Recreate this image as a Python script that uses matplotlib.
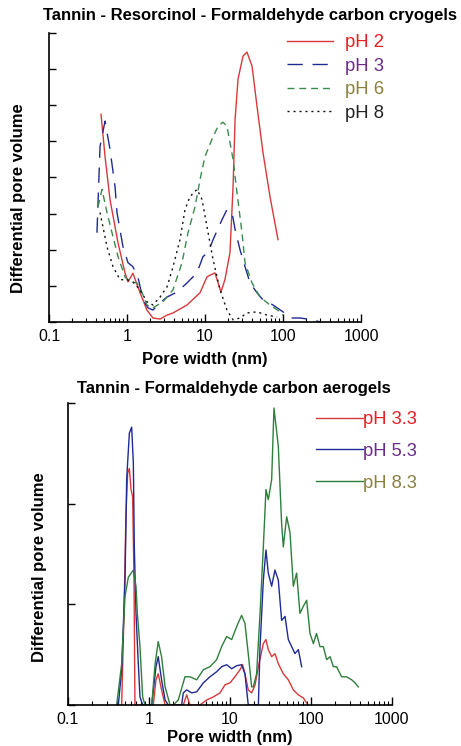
import numpy as np
import matplotlib
matplotlib.use('Agg')
import matplotlib.pyplot as plt
from matplotlib.ticker import LogLocator, NullFormatter

plt.rcParams['font.family'] = ['Liberation Sans', 'DejaVu Sans']

######## data: top panel (cryogels), pore width in nm, arbitrary units

ph2_x = [0.464, 0.523, 0.605, 0.767, 0.943, 1.03, 1.19, 1.47, 1.80, 2.15, 2.65, 3.26, 3.89,
         5.88, 8.63, 10.6, 13.4, 16.0, 18.0, 20.9, 22.9, 24.3, 26.5, 30.7, 34.5, 40.1, 46.4,
         55.4, 68.1, 86.3]
ph2_y = [5.75, 4.58, 3.39, 2.19, 1.36, 1.11, 1.35, 0.81, 0.33, 0.11, 0.08, 0.19, 0.25,
         0.47, 0.81, 1.25, 1.36, 0.83, 1.17, 1.92, 3.75, 5.61, 6.72, 7.36, 7.47, 7.08, 5.97,
         4.69, 3.47, 2.28]

ph3_x = [0.412, 0.451, 0.523, 0.605, 0.702, 0.744, 0.889, 1.03, 1.19, 1.38, 1.60, 1.86, 2.15,
         2.65, 3.26, 4.38, 5.88, 7.89, 9.42, 10.9, 12.7, 16.5, 19.1, 22.2, 24.3, 28.1, 32.6,
         37.8, 46.4, 55.4, 74.5, 100, 123, 165, 243, 298]
ph3_y = [2.47, 4.86, 5.56, 4.78, 3.75, 3.03, 2.08, 1.64, 1.53, 1.25, 0.61, 0.39, 0.33,
         0.53, 0.69, 0.83, 1.08, 1.36, 1.81, 1.92, 2.28, 2.83, 3.11, 3.03, 2.56, 2.00, 1.53,
         1.08, 0.81, 0.61, 0.47, 0.28, 0.11, 0.11, 0.06, 0.0]

ph6_x = [0.425, 0.478, 0.554, 0.642, 0.767, 0.943, 1.09, 1.34, 1.56, 1.80, 2.15, 2.89, 3.89,
         5.07, 6.05, 7.45, 8.63, 10.0, 12.3, 14.7, 17.0, 19.1, 22.9, 25.7, 29.8, 32.6, 40.1,
         50.7, 68.1, 91.5, 100]
ph6_y = [3.19, 3.67, 3.03, 2.47, 1.81, 1.25, 1.11, 1.08, 0.81, 0.47, 0.39, 0.56, 0.89,
         1.64, 2.47, 3.19, 3.94, 4.58, 5.06, 5.42, 5.53, 5.42, 4.50, 3.58, 2.47, 1.64, 1.08,
         0.69, 0.47, 0.28, 0.19]

ph8_x = [0.451, 0.554, 0.662, 0.813, 1.0, 1.19, 1.47, 1.80, 2.15, 2.65, 3.26, 3.89, 4.78,
         5.54, 6.42, 7.89, 9.16, 10.6, 12.7, 15.6, 19.1, 22.9, 28.1, 34.5, 46.4, 62.4, 83.8]
ph8_y = [3.03, 2.08, 1.53, 1.17, 1.17, 1.11, 0.89, 0.56, 0.47, 0.69, 0.97, 1.53, 2.28,
         3.11, 3.47, 3.67, 3.39, 2.64, 1.72, 0.89, 0.33, 0.06, 0.11, 0.25, 0.28, 0.19, 0.14]

######## data: bottom panel (aerogels)

ph33_x = [0.460, 0.491, 0.520, 0.545, 0.572, 0.600, 0.628, 0.653, 0.671, 1.13, 1.22, 1.30,
          1.43, 1.58, 2.65, 2.92, 3.21, 4.26, 5.15, 6.23, 7.53, 8.68, 10.0, 11.5, 13.3, 14.3,
          15.3, 16.8, 18.5, 20.4, 22.4, 25.8, 27.8, 29.7, 32.7, 35.9, 39.5, 45.5, 52.5, 60.5,
          69.8, 80.4, 88.4]
ph33_y = [0.0, 0.91, 1.90, 2.30, 2.35, 2.14, 2.07, 1.24, 0.0, 0.0, 0.25, 0.31,
          0.15, 0.0, 0.0, 0.10, 0.0, 0.0, 0.05, 0.08, 0.12, 0.20, 0.22, 0.28, 0.35, 0.40,
          0.31, 0.15, 0.12, 0.20, 0.38, 0.61, 0.65, 0.55, 0.48, 0.51, 0.41, 0.31, 0.25, 0.15,
          0.10, 0.07, 0.02]

ph53_x = [0.418, 0.460, 0.506, 0.530, 0.572, 0.611, 0.641, 0.659, 0.691, 0.738, 0.774, 0.835,
          1.08, 1.22, 1.30, 1.43, 1.58, 1.73, 2.53, 2.65, 2.92, 3.36, 3.88, 4.69, 5.66, 6.84,
          7.89, 9.1, 10.5, 12.1, 13.9, 15.3, 16.8, 22.4, 23.5, 25.8, 27.8, 29.7, 32.7, 35.9,
          39.5, 43.4, 47.8, 52.5, 57.7, 63.4, 69.8, 76.7]
ph53_y = [0.0, 0.35, 1.24, 2.24, 2.70, 2.76, 2.40, 1.57, 0.91, 0.41, 0.08, 0.0,
          0.0, 0.38, 0.48, 0.25, 0.05, 0.0, 0.0, 0.12, 0.15, 0.12, 0.13, 0.22, 0.28, 0.33,
          0.38, 0.40, 0.36, 0.39, 0.40, 0.31, 0.0, 0.0, 0.58, 1.24, 1.54, 1.31, 1.18, 1.34,
          1.24, 0.84, 0.88, 0.65, 0.58, 0.51, 0.55, 0.38]

ph83_x = [0.399, 0.460, 0.506, 0.556, 0.641, 0.691, 0.718, 0.774, 0.835, 0.893, 1.08, 1.19,
          1.30, 1.43, 1.58, 1.82, 2.0, 2.30, 2.78, 3.21, 3.88, 4.69, 5.66, 6.84, 7.89, 9.1,
          10.5, 12.1, 13.9, 15.3, 16.8, 18.5, 19.4, 21.3, 23.5, 25.8, 27.8, 29.7, 32.7, 34.9,
          39.5, 43.4, 45.5, 50.1, 55.1, 60.5, 66.5, 73.1, 80.4, 88.4, 97.2, 107, 117, 129,
          142, 156, 172, 189, 207, 239, 275, 318, 349, 384]
ph83_y = [0.0, 0.41, 1.08, 1.27, 1.34, 1.18, 0.91, 0.58, 0.08, 0.0, 0.0, 0.41,
          0.63, 0.48, 0.18, 0.0, 0.0, 0.05, 0.28, 0.28, 0.25, 0.35, 0.38, 0.45, 0.58, 0.68,
          0.65, 0.78, 0.89, 0.81, 0.51, 0.18, 0.18, 0.31, 0.91, 1.57, 2.14, 2.04, 2.24, 2.95,
          2.57, 1.80, 1.57, 1.87, 1.71, 1.18, 1.31, 0.91, 0.98, 1.04, 0.71, 0.61, 0.71, 0.58,
          0.58, 0.45, 0.48, 0.38, 0.38, 0.28, 0.28, 0.25, 0.22, 0.18]

xticks = [0.1, 1, 10, 100, 1000]
xticklabels = ['0.1', '1', '10', '100', '1000']

red = '#d9383a'
blue = '#1f2a92'
green = '#3a8a4c'
legend_colors_top = ['#e61e25', '#6a2c88', '#8a8040', '#222222']
legend_colors_bot = ['#e61e25', '#6a2c88', '#8a8040']

fig = plt.figure(figsize=(4.61, 7.46), dpi=100)


def style_axis(ax, ymax, yticks, labelpad):
    ax.set_xscale('log')
    ax.set_xlim(0.1, 1000)
    ax.set_ylim(0, ymax)
    ax.spines['top'].set_visible(False)
    ax.spines['right'].set_visible(False)
    ax.spines['left'].set_linewidth(1.2)
    ax.spines['bottom'].set_linewidth(1.2)
    ax.set_xticks(xticks)
    ax.set_xticklabels(xticklabels)
    ax.xaxis.set_minor_locator(LogLocator(base=10, subs=np.arange(2, 10)))
    ax.xaxis.set_minor_formatter(NullFormatter())
    ax.set_yticks(yticks)
    ax.set_yticklabels([])
    ax.tick_params(axis='x', which='major', direction='in', length=6, width=1, labelsize=11.5, pad=5)
    ax.tick_params(axis='x', which='minor', direction='in', length=3, width=0.8)
    ax.tick_params(axis='y', direction='in', length=5, width=1)
    ax.set_xlabel('Pore width (nm)', fontsize=12, fontweight='bold', labelpad=labelpad)


################# top panel

ax1 = fig.add_axes([0.1063, 0.5684, 0.6768, 0.3874])
ax1.plot(ph2_x, ph2_y, color=red, lw=1.0, label='pH 2')
ax1.plot(ph3_x, ph3_y, color=blue, lw=1.0, dashes=(11, 7), label='pH 3')
ax1.plot(ph6_x, ph6_y, color=green, lw=1.0, dashes=(5, 3.5), label='pH 6')
ax1.plot(ph8_x, ph8_y, color='#111111', lw=1.0, dashes=(1.5, 2.8), label='pH 8')
style_axis(ax1, 8, np.arange(0, 9), 6)
ax1.set_ylabel('Differential pore volume', fontsize=12, fontweight='bold')
ax1.yaxis.set_label_coords(-0.075, 0.43)
leg1 = ax1.legend(loc='upper left', bbox_to_anchor=(0.739, 1.022), frameon=False, fontsize=13.3,
                  handlelength=2.5, handletextpad=0.65, labelspacing=0.36,
                  labelcolor=legend_colors_top, borderaxespad=0)
fig.text(0.542, 0.979, 'Tannin - Resorcinol - Formaldehyde carbon cryogels',
         ha='center', va='center', fontsize=12, fontweight='bold')

################# bottom panel

ax2 = fig.add_axes([0.1475, 0.0550, 0.7028, 0.4048])
ax2.plot(ph33_x, ph33_y, color=red, lw=1.0, label='pH 3.3')
ax2.plot(ph53_x, ph53_y, color=blue, lw=1.0, label='pH 5.3')
ax2.plot(ph83_x, ph83_y, color='#2f7f3c', lw=1.0, label='pH 8.3')
style_axis(ax2, 3, np.arange(0, 4), 2)
ax2.set_ylabel('Differential pore volume', fontsize=12, fontweight='bold')
ax2.yaxis.set_label_coords(-0.064, 0.457)
leg2 = ax2.legend(loc='upper left', bbox_to_anchor=(0.743, 0.998), frameon=False, fontsize=13.2,
                  handlelength=2.55, handletextpad=0.0, labelspacing=0.81,
                  labelcolor=legend_colors_bot, borderaxespad=0)
fig.text(0.508, 0.4786, 'Tannin - Formaldehyde carbon aerogels',
         ha='center', va='center', fontsize=12, fontweight='bold')

fig.savefig('out.png', dpi=100)
